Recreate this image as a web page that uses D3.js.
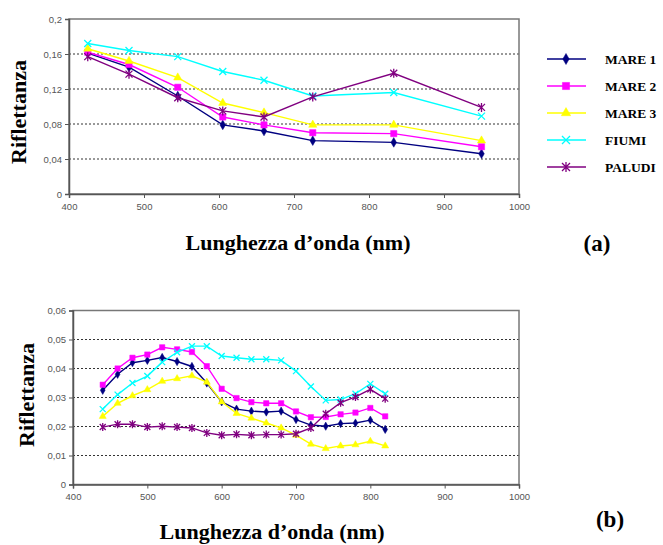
<!DOCTYPE html>
<html>
<head>
<meta charset="utf-8">
<script src="https://cdn.jsdelivr.net/npm/d3@7"></script>
<style>
  body { margin: 0; background: #fff; }
  svg { display: block; }
  .tick text { font-family: "Liberation Sans", Arial, sans-serif; font-size: 9.5px; fill: #555; }
  .title { font-family: "Liberation Serif", "Times New Roman", serif; font-weight: bold; fill: #000; }
</style>
</head>
<body>
<svg id="chart" width="663" height="545"></svg>
<script>
var seriesNames = ['MARE 1', 'MARE 2', 'MARE 3', 'FIUMI', 'PALUDI'];
var seriesColors = ['#000080', '#ff00ff', '#ffff00', '#00ffff', '#800080'];
var seriesMarkers = ['diamond', 'square', 'triangle', 'cross', 'star'];

// panel (a)
var wavesA = [425, 480, 545, 605, 660, 725, 833, 950];
var mare1A = [0.161, 0.145, 0.112, 0.079, 0.072, 0.061, 0.059, 0.046];
var mare2A = [0.162, 0.148, 0.122, 0.088, 0.079, 0.070, 0.069, 0.054];
var mare3A = [0.166, 0.152, 0.133, 0.104, 0.093, 0.079, 0.079, 0.061];
var fiumiA = [0.172, 0.164, 0.157, 0.140, 0.130, 0.112, 0.116, 0.089];
var paludiA = [0.157, 0.137, 0.110, 0.095, 0.088, 0.111, 0.138, 0.099];
var yTicksA = [0, 0.04, 0.08, 0.12, 0.16, 0.2];

// panel (b)
var wavesB = [440, 460, 480, 500, 520, 540, 560, 580, 600, 620, 640, 660, 680, 700, 720, 740, 760, 780, 800, 820];
var mare1B = [0.0325, 0.038, 0.042, 0.0428, 0.0438, 0.0424, 0.0407, 0.035, 0.0285, 0.026, 0.0253, 0.025, 0.0253, 0.0224, 0.0205, 0.0201, 0.021, 0.0212, 0.0222, 0.019];
var mare2B = [0.0344, 0.040, 0.0437, 0.0448, 0.0473, 0.0466, 0.0457, 0.0408, 0.033, 0.0298, 0.0284, 0.028, 0.028, 0.0252, 0.0232, 0.0233, 0.0242, 0.0248, 0.0264, 0.0235];
var mare3B = [0.0235, 0.028, 0.0306, 0.0327, 0.0356, 0.0365, 0.0375, 0.0353, 0.0285, 0.0245, 0.0229, 0.0212, 0.0195, 0.017, 0.0139, 0.0124, 0.0133, 0.0137, 0.0149, 0.0133];
var fiumiB = [0.026, 0.031, 0.035, 0.0374, 0.0422, 0.0456, 0.0477, 0.0477, 0.0443, 0.0437, 0.0432, 0.0432, 0.0428, 0.0391, 0.0338, 0.029, 0.0293, 0.0313, 0.0347, 0.0313];
var paludiB = [0.0198, 0.0208, 0.0208, 0.0198, 0.0201, 0.0198, 0.0195, 0.0178, 0.017, 0.0173, 0.017, 0.0172, 0.0172, 0.0175, 0.0195, 0.0244, 0.0282, 0.0302, 0.0328, 0.0296];
var yTicksB = [0, 0.01, 0.02, 0.03, 0.04, 0.05, 0.06];

var xTicks = [400, 500, 600, 700, 800, 900, 1000];

var svg = d3.select('#chart');
var fmt = function(v) { return String(+v.toFixed(3)).replace('.', ','); };

function markerPath(type, s) {
  if (type === 'diamond') return d3.symbol(d3.symbolDiamond, s * s * 0.55)();
  if (type === 'square') return d3.symbol(d3.symbolSquare, s * s * 0.8)();
  if (type === 'triangle') return d3.symbol(d3.symbolTriangle, s * s * 0.6)();
  var h = s / 2;
  var p = 'M' + (-h) + ',' + (-h) + 'L' + h + ',' + h + 'M' + (-h) + ',' + h + 'L' + h + ',' + (-h);
  if (type === 'star') p += 'M0,' + (-h - 1) + 'L0,' + (h + 1);
  return p;
}

function drawMarker(g, type, color, s) {
  var filled = type === 'diamond' || type === 'square' || type === 'triangle';
  g.append('path')
      .attr('d', markerPath(type, s))
      .attr('fill', filled ? color : 'none')
      .attr('stroke', color)
      .attr('stroke-width', filled ? 0.5 : 1.3);
}

function panel(opt) {
  var x = d3.scaleLinear().domain([400, 1000]).range([opt.left, opt.right]),
      y = d3.scaleLinear().domain([0, opt.yMax]).range([opt.bottom, opt.top]);

  var g = svg.append('g');

  // dotted grid
  g.selectAll('line.grid')
      .data(opt.yTicks.filter(function(d) { return d > 0 && d < opt.yMax; }))
    .enter().append('line')
      .attr('class', 'grid')
      .attr('x1', opt.left).attr('x2', opt.right)
      .attr('y1', function(d) { return y(d); })
      .attr('y2', function(d) { return y(d); })
      .attr('stroke', '#333')
      .attr('stroke-width', 1)
      .attr('stroke-dasharray', '2,2');

  // frame
  g.append('rect')
      .attr('x', opt.left).attr('y', opt.top)
      .attr('width', opt.right - opt.left)
      .attr('height', opt.bottom - opt.top)
      .attr('fill', 'none')
      .attr('stroke', '#777')
      .attr('stroke-width', 1.5);

  var ax = g.append('g')
      .attr('transform', 'translate(0,' + opt.bottom + ')')
      .call(d3.axisBottom(x).tickValues(xTicks).tickSize(4).tickPadding(5).tickFormat(d3.format('d')));
  var ay = g.append('g')
      .attr('transform', 'translate(' + opt.left + ',0)')
      .call(d3.axisLeft(y).tickValues(opt.yTicks).tickSize(4).tickPadding(3).tickFormat(fmt));
  [ax, ay].forEach(function(a) {
    a.select('.domain').attr('stroke', '#555').attr('stroke-width', 1.5);
    a.selectAll('.tick line').attr('stroke', '#555');
  });

  var line = d3.line()
      .x(function(d) { return x(d[0]); })
      .y(function(d) { return y(d[1]); });

  opt.series.forEach(function(vals, i) {
    var pts = opt.waves.map(function(w, j) { return [w, vals[j]]; });
    g.append('path')
        .attr('d', line(pts))
        .attr('fill', 'none')
        .attr('stroke', seriesColors[i])
        .attr('stroke-width', 1.4);
    pts.forEach(function(p) {
      var m = g.append('g').attr('transform', 'translate(' + x(p[0]) + ',' + y(p[1]) + ')');
      drawMarker(m, seriesMarkers[i], seriesColors[i], opt.markerSize);
    });
  });

  svg.append('text')
      .attr('class', 'title')
      .attr('transform', 'translate(' + opt.yTitleX + ',' + opt.yTitleY + ') rotate(-90)')
      .attr('text-anchor', 'middle')
      .attr('font-size', 22)
      .text('Riflettanza');

  svg.append('text')
      .attr('class', 'title')
      .attr('x', opt.xTitleX).attr('y', opt.xTitleY)
      .attr('text-anchor', 'middle')
      .attr('font-size', 22)
      .text('Lunghezza d\u2019onda (nm)');

  svg.append('text')
      .attr('class', 'title')
      .attr('x', opt.tagX).attr('y', opt.tagY)
      .attr('text-anchor', 'middle')
      .attr('font-size', 23)
      .text(opt.tag);
}

panel({
  left: 69, right: 519, top: 19, bottom: 194, yMax: 0.2,
  yTicks: yTicksA, waves: wavesA,
  series: [mare1A, mare2A, mare3A, fiumiA, paludiA],
  markerSize: 7,
  yTitleX: 26, yTitleY: 112,
  xTitleX: 298, xTitleY: 250,
  tag: '(a)', tagX: 597, tagY: 251
});

panel({
  left: 73, right: 519, top: 310.5, bottom: 484.5, yMax: 0.06,
  yTicks: yTicksB, waves: wavesB,
  series: [mare1B, mare2B, mare3B, fiumiB, paludiB],
  markerSize: 6,
  yTitleX: 34, yTitleY: 395,
  xTitleX: 272, xTitleY: 539,
  tag: '(b)', tagX: 610, tagY: 527
});

// legend (panel a)
var legend = svg.append('g')
    .selectAll('g')
    .data(seriesNames)
  .enter().append('g')
    .attr('transform', function(d, i) { return 'translate(547,' + (59 + i * 27) + ')'; });

legend.append('line')
    .attr('x1', 0).attr('x2', 39)
    .attr('stroke', function(d, i) { return seriesColors[i]; })
    .attr('stroke-width', 1.5);

legend.each(function(d, i) {
  var m = d3.select(this).append('g').attr('transform', 'translate(19,0)');
  drawMarker(m, seriesMarkers[i], seriesColors[i], 8);
});

legend.append('text')
    .attr('class', 'title')
    .attr('x', 58).attr('y', 5)
    .attr('font-size', 13.5)
    .text(function(d) { return d; });
</script>
</body>
</html>
